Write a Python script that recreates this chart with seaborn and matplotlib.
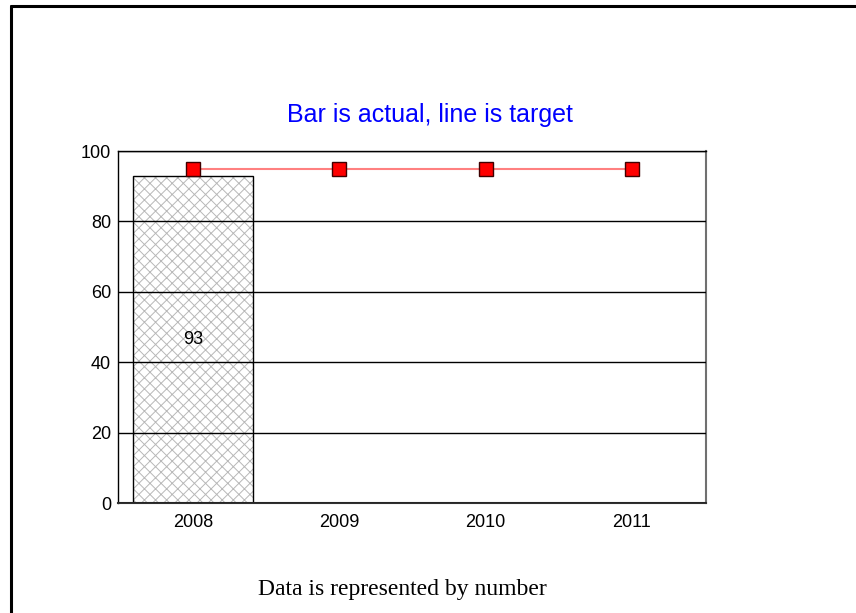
import numpy as np
import pandas as pd
import matplotlib
matplotlib.use('Agg')
import matplotlib.pyplot as plt
import seaborn as sns
from matplotlib.lines import Line2D
from matplotlib.patches import Rectangle

# данные
years = ['2008', '2009', '2010', '2011']
actual_years = ['2008']
actual = [93]
target = [95, 95, 95, 95]

sns.set_theme(style='white')
plt.rcParams['font.family'] = ['Liberation Sans', 'DejaVu Sans']
plt.rcParams['hatch.linewidth'] = 0.7

W, H = 856, 613
fig = plt.figure(figsize=(W / 100, H / 100), dpi=100)
ax = fig.add_axes([118 / W, 1 - 503 / H, 588 / W, 352 / H])

df = pd.DataFrame({'year': actual_years, 'actual': actual})
sns.barplot(data=df, x='year', y='actual', order=years, width=0.82,
            color='white', edgecolor='#b8b8b8', linewidth=0, hatch='xxx',
            saturation=1, ax=ax)
# контур столбца чёрным поверх штриховки
for p in ax.patches:
    ax.add_patch(Rectangle(p.get_xy(), p.get_width(), p.get_height(),
                           fill=False, edgecolor='black', lw=1, zorder=1.5))
ax.bar_label(ax.containers[0], labels=[str(v) for v in actual],
             label_type='center', fontsize=13, color='black')

ax.plot(np.arange(len(years)), target, color='#ff8080', lw=1.5, marker='s',
        markersize=10, markerfacecolor='red', markeredgecolor='#400000',
        markeredgewidth=1, zorder=4)

ax.set_xlim(-0.513, 3.507)
ax.set_ylim(0, 100)
ax.set_yticks(range(0, 101, 20))
ax.set_xticks(range(len(years)))
ax.set_xticklabels(years)
ax.set_xlabel('')
ax.set_ylabel('')
ax.tick_params(axis='both', length=0, labelsize=13, colors='black')
ax.tick_params(axis='y', pad=5)
ax.tick_params(axis='x', pad=8)
ax.yaxis.grid(True, color='black', lw=1)
ax.set_axisbelow(False)
for s in ['top', 'left']:
    ax.spines[s].set_color('black')
    ax.spines[s].set_linewidth(1)
ax.spines['right'].set_color('#707070')
ax.spines['right'].set_linewidth(1.5)
ax.spines['bottom'].set_color('#303030')
ax.spines['bottom'].set_linewidth(1.5)

fig.text(430 / W, 1 - 122 / H, 'Bar is actual, line is target', color='blue',
         fontsize=18, ha='center', va='baseline')
fig.text(402 / W, 1 - 595 / H, 'Data is represented by number',
         family=['Liberation Serif', 'DejaVu Serif'], fontsize=17,
         ha='center', va='baseline', color='black')

# рамка слева и сверху
fig.add_artist(Line2D([10.5 / W, 10.5 / W], [0, 1 - 5.5 / H], color='black', lw=2.2))
fig.add_artist(Line2D([10.5 / W, 1], [1 - 5.5 / H, 1 - 5.5 / H], color='black', lw=2.2))

fig.savefig('out.png', dpi=100)
